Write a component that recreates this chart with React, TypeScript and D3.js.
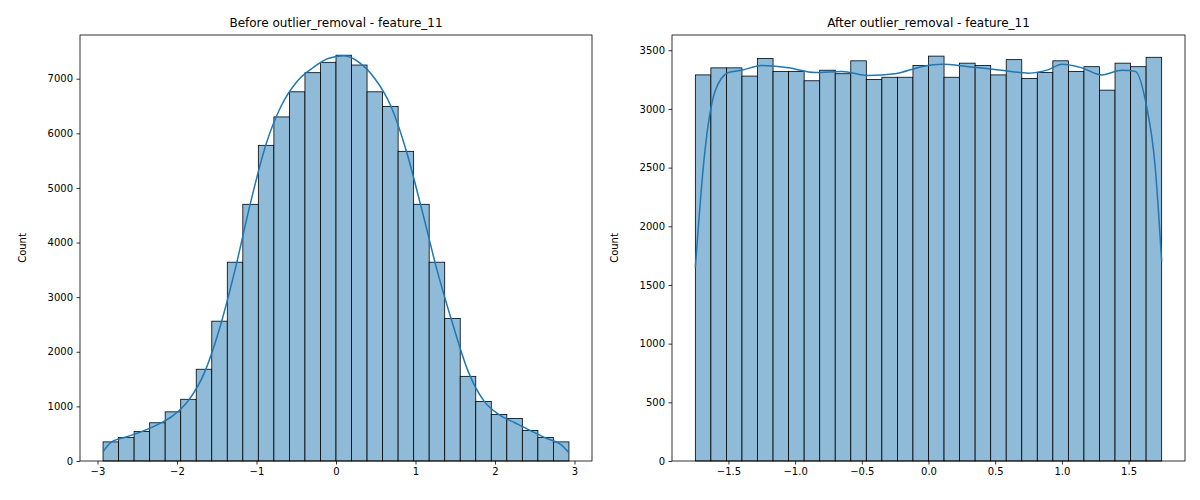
import React, { useEffect, useRef } from "react";
import * as d3 from "d3";

const beforeRange = [-2.93, 2.93];
const beforeCounts = [350, 430, 540, 700, 900, 1130, 1680, 2560, 3640, 4700, 5780, 6300, 6760, 7110, 7300, 7430, 7250, 6760, 6490, 5670, 4700, 3640, 2610, 1550, 1090, 850, 780, 560, 430, 350];
const beforeKde: [number, number][] = [[-2.93, 170], [-2.83, 340], [-2.64, 440], [-2.44, 540], [-2.25, 660], [-2.05, 830], [-1.86, 1100], [-1.66, 1600], [-1.47, 2400], [-1.27, 3500], [-1.08, 4700], [-0.88, 5800], [-0.69, 6500], [-0.49, 6950], [-0.29, 7200], [-0.1, 7370], [0.1, 7420], [0.29, 7300], [0.49, 7000], [0.69, 6500], [0.88, 5700], [1.08, 4600], [1.27, 3500], [1.47, 2500], [1.66, 1650], [1.86, 1100], [2.05, 850], [2.25, 700], [2.44, 560], [2.64, 420], [2.83, 300], [2.93, 150]];
const beforeTicksX = [-3, -2, -1, 0, 1, 2, 3];
const beforeTicksY = [0, 1000, 2000, 3000, 4000, 5000, 6000, 7000];

const afterRange = [-1.748, 1.748];
const afterCounts = [3290, 3350, 3350, 3280, 3430, 3320, 3320, 3240, 3330, 3300, 3410, 3250, 3270, 3270, 3370, 3450, 3270, 3390, 3370, 3290, 3420, 3260, 3310, 3410, 3320, 3360, 3160, 3390, 3360, 3440];
const afterKde: [number, number][] = [[-1.748, 1650], [-1.68, 2600], [-1.6, 3150], [-1.5, 3310], [-1.4, 3330], [-1.25, 3370], [-1.05, 3350], [-0.85, 3310], [-0.65, 3320], [-0.45, 3285], [-0.25, 3300], [-0.05, 3360], [0.1, 3380], [0.3, 3360], [0.55, 3330], [0.75, 3305], [0.9, 3335], [1.0, 3380], [1.15, 3350], [1.3, 3290], [1.45, 3330], [1.55, 3320], [1.63, 3050], [1.7, 2500], [1.748, 1700]];
const afterTicksX = [-1.5, -1.0, -0.5, 0.0, 0.5, 1.0, 1.5];
const afterTicksY = [0, 500, 1000, 1500, 2000, 2500, 3000, 3500];

type Panel = {
  title: string; left: number; right: number; range: number[]; counts: number[];
  kde: [number, number][]; ticksX: number[]; ticksY: number[]; xDom: number[]; yMax: number; fmtX: (v: number) => string;
};

const panels: Panel[] = [
  { title: "Before outlier_removal - feature_11", left: 80, right: 592, range: beforeRange, counts: beforeCounts, kde: beforeKde, ticksX: beforeTicksX, ticksY: beforeTicksY, xDom: [-3.22, 3.22], yMax: 7800, fmtX: (v) => (v < 0 ? "\u2212" + -v : String(v)) },
  { title: "After outlier_removal - feature_11", left: 672, right: 1185, range: afterRange, counts: afterCounts, kde: afterKde, ticksX: afterTicksX, ticksY: afterTicksY, xDom: [-1.923, 1.923], yMax: 3630, fmtX: (v) => (v < 0 ? "\u2212" + (-v).toFixed(1) : v.toFixed(1)) },
];

export default function App() {
  const ref = useRef<SVGSVGElement | null>(null);

  useEffect(() => {
    const svg = d3.select(ref.current);
    svg.selectAll("*").remove();
    const top = 35, bottom = 461;

    panels.forEach((p) => {
      const x = d3.scaleLinear().domain(p.xDom).range([p.left, p.right]);
      const y = d3.scaleLinear().domain([0, p.yMax]).range([bottom, top]);
      const g = svg.append("g");
      const w = (p.range[1] - p.range[0]) / p.counts.length;

      g.selectAll("rect").data(p.counts).enter().append("rect")
        .attr("x", (_, i) => x(p.range[0] + i * w))
        .attr("width", (_, i) => x(p.range[0] + (i + 1) * w) - x(p.range[0] + i * w))
        .attr("y", (d) => y(d))
        .attr("height", (d) => bottom - y(d))
        .attr("fill", "#8fbbd9")
        .attr("stroke", "#000")
        .attr("stroke-width", 0.8);

      const line = d3.line<[number, number]>().x((d) => x(d[0])).y((d) => y(d[1])).curve(d3.curveMonotoneX);
      g.append("path").attr("d", line(p.kde)).attr("fill", "none").attr("stroke", "#1f77b4").attr("stroke-width", 1.5);

      g.append("rect").attr("x", p.left).attr("y", top).attr("width", p.right - p.left).attr("height", bottom - top)
        .attr("fill", "none").attr("stroke", "#000").attr("stroke-width", 0.8);

      const xa = g.append("g").attr("transform", `translate(0,${bottom})`)
        .call(d3.axisBottom(x).tickValues(p.ticksX).tickSize(3.5).tickPadding(3.5).tickFormat((v) => p.fmtX(+v)));
      const ya = g.append("g").attr("transform", `translate(${p.left},0)`)
        .call(d3.axisLeft(y).tickValues(p.ticksY).tickSize(3.5).tickPadding(3.5).tickFormat((v) => String(v)));
      [xa, ya].forEach((a) => {
        a.select(".domain").remove();
        a.selectAll("text").attr("font-size", 10).attr("font-family", "DejaVu Sans").attr("fill", "#000");
        a.selectAll("line").attr("stroke", "#000").attr("stroke-width", 0.8);
      });

      g.append("text").attr("x", (p.left + p.right) / 2).attr("y", 27).attr("text-anchor", "middle")
        .attr("font-size", 12).attr("font-family", "DejaVu Sans").text(p.title);
      g.append("text").attr("transform", `translate(${p.left - 54},${(top + bottom) / 2}) rotate(-90)`)
        .attr("text-anchor", "middle").attr("font-size", 10).attr("font-family", "DejaVu Sans").text("Count");
    });
  }, []);

  return <svg ref={ref} width={1200} height={500} style={{ position: "absolute", left: 0, top: 0, background: "#fff" }} />;
}
